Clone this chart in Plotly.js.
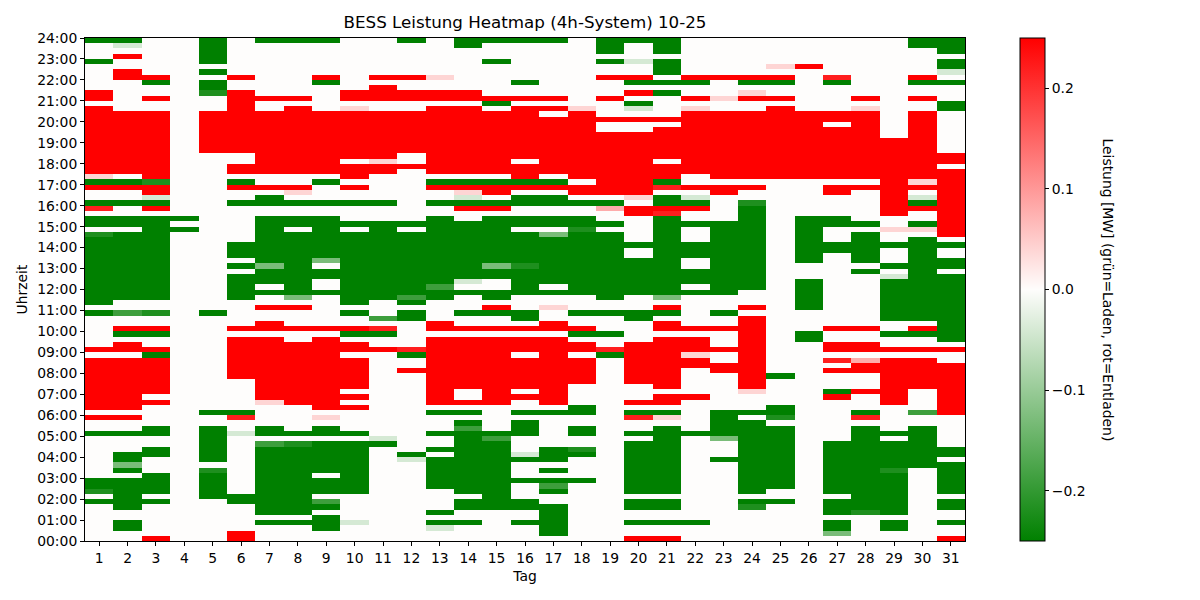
<!DOCTYPE html>
<html>
<head>
<meta charset="utf-8">
<script src="https://cdn.plot.ly/plotly-3.0.1.min.js"></script>
<style>html,body{margin:0;padding:0;background:#fff;}#chart{width:1200px;height:600px;}</style>
</head>
<body>
<div id="chart"></div>
<script>
// Days of the month (x categories)
const days = [1,2,3,4,5,6,7,8,9,10,11,12,13,14,15,16,17,18,19,20,21,22,23,24,25,26,27,28,29,30,31];
// Hour tick labels (y axis)
const hourLabels = ["00:00","01:00","02:00","03:00","04:00","05:00","06:00","07:00","08:00","09:00","10:00","11:00","12:00",
  "13:00","14:00","15:00","16:00","17:00","18:00","19:00","20:00","21:00","22:00","23:00","24:00"];
// Colorbar ticks
const cbTickVals = [-0.2,-0.1,0,0.1,0.2];
const cbTickText = ["\u22120.2","\u22120.1","0.0","0.1","0.2"];

// Power level codes (MW)
const levelCode = {".":0, "R":0.25, "r":0.22, "s":0.08, "p":0.04, "G":-0.25, "g":-0.22, "m":-0.19, "l":-0.13, "q":-0.04};

// One string per day, 15-minute slots, hour groups from 23:00 (top) down to 00:00;
// inside each group: :45, :30, :15, :00
const d01 = "G... G... ..RR .RRR RRRR RRRR RRpG R..G r.GG .gGG GGGG GGGG GGG. G... ...R .RRR RRRR RRR. R..G .... .... GGg. G... ....";
const d02 = "Gq.R ..RR .... ..RR RRRR RRRR RR.G R..G ..GG .GGG GGGG GGGG GG.. m..R G.RR .RRR RRRR RRR. R..G ...G GlG. GGGG GG.. GG..";
const d03 = ".... ...R G..R ..RR RRRR RRRR RRRg RRqG R.GG GGGG GGGG GGGG GG.. g..R G..R GRRR RRRR .R.. ..GG ..GG ...G GGG. G... ...R";
const d04 = ".... .... .... .... .... .... .... .... ..G. G... .... .... .... .... .... .... .... .... .... .... .... .... .... ....";
const d05 = "GGGG G.G. GGg. ..RR RRRR RR.. .... .... .... .... .... .... .... G... .... .... .... ...G ..GG GGGG G.gG GGGG .... ....";
const d06 = ".... ...R ..RR RRRR RRRR RR.. RR.G R..G .... ...G GG.G .GGG GG.. ...R .RRR RRRR R... ...G r..q .... .... ...G G... ..RR";
const d07 = "G... .... ...R ..RR RRRR RRRR RR.. R.GG ..GG GGGG GGGl GGG. G..R ..RR .RRR RRRR RRRR Rp.. ..GG .mGG GGGG GGGG GGG. G...";
const d08 = "G... .... ...R .RRR RRRR RRRR RR.. Rp.G ..GG .GGG GGGG GGGG Gl.R ...R ..RR RRRR RRRR RR.. ...G .gGG GGGG GGGG GGG. G...";
const d09 = "G... ...R G... ..RR RRRR RRRR RR.G ...G ..GG GGGG GGl. GG.. G... ...R .RRR RRRR RRRR RRR. p.GG .GGG GGG. GGG. mG.G GG..";
const d10 = ".... .... ..RR .pRR RRRR RRR. RRR. R..G ...G .GGG GGGG GGGG GGG. G..R G.RR .RRR RRR. R.R. ...G .GGG GGGG GGG. .... q...";
const d11 = ".... ...R .RRR ..RR RRRR RRRp RR.. ...G ...G GGGG GGGG GGGG GG.. .m.r G..R .... .... .... .... qG.. .... .... .... ....";
const d12 = "G... ...R ..RR ..RR RRRR RR.. R... .... ...G .GGG GGGG GGGG GmG. GG.. ...r G..R .... .... .... ...G q... .... .... ....";
const d13 = ".... ...p ..RR .RRR RRRR RRRR RR.G R..G ..GG GGGG GGGG GGGm GG.. ..RR .RRR RRRR RRRR RR.G ...G ..G. GGGG GG.. ..G. Gq..";
const d14 = "GG.. .... ..RR .RRR RRRR RRRR RR.G RpqG R..G GGGG GGGG GGq. G... G..R .RRR RRRR RRR. .R.G .GmG GGGG GGGG GGG. GG.. G...";
const d15 = "G... G... ...R G.RR RRRR RRRR RR.G RR.G R.GG GGGG GGGl GG.. GG.R G..R .RRR RRRR RRRR RR.. ...G mGGG GGGG GGGG GG.. ....";
const d16 = "G... .... G..R .RRR RRRR RRR. RRRG R.GG ..GG .GGG GGGg GGGG G... GG.R .RRR .RRR RRR. R..G .GGG ...q G... G... GG.. G...";
const d17 = "G... .... ...R .R.R RRRR RRRR RR.G R.GG ..GG .lGG GGGG GGG. G..p ..RR .RRR RRRR RRRR RR.G .... ..GG G.G. GmG. .GGG GGG.";
const d18 = ".... .... .... .pRR RRRR RRRR RRR. RR.G ..GG gGGG GGGG GGGG G... G..R G.RR .RRR RR.. ..GG ..GG ..gG .... G... .... ....";
const d19 = "GGG. G..R ...R ...R ..RR RRRR RRRR RR.G s..G .GGG GGGG GGGG GG.. G... G..r G... .... .... .... .... .... .... .... ....";
const d20 = "G... q..R G.R. Gq.R ..RR RRRR RRRR RRp. RR.. ...G ..GG GGGG G... GG.. ..RR RRRR RR.. .R.G r..G .GGG GGGG GGG. GG.. G..R";
const d21 = "GGG. GGG. G.G. ...R .RRR RRR. RRRG r.GG RrGG GGGG GGGG GGGG Gl.R G.RR .RRR RRRR RRR. RR.G p.GG GGGG GGGG GGG. GG.. G..R";
const d22 = ".... ...R G..R .pRR RRRR RRRR RR.. R.qG R..G ...G GG.. GGG. G... ...R .RRR pRR. .... R... ...G .... .... .... .... G...";
const d23 = ".... ...R ...p ..RR RRRR RRRR RRR. RR.. ...G GGGG GGGG GGGG G... G..R ...R ..RR .... ...G GGGG l... G... .... .... ....";
const d24 = ".... ...R G.pR ..RR RRRR RRRR RRR. R..g GGGG GGGG GGGG GGGG ...R .RRR RRRR RRRR RRRp ...G .GGG GGGG GGGG GGG. Gg.. ....";
const d25 = ".... .p.R G..R .RRR RRRR RRRR RRR. .... .... .... .... .... .... .... .... .... G... ..GG g.GG GGGG GGGG GG.. G... ....";
const d26 = ".... .R.. .... ..RR RRRR RRRR RRR. .... ..GG GGGG GGG. ..GG GGGG .... GG.. .... .... .... .... .... .... .... .... ....";
const d27 = ".... ...r G... ..RR .RRR RRRR RRR. RR.. ..GG ...G G... .... .... ...R ..RR .r.R ...G R... .... .GGG GGGG GGG. GGG. GGl.";
const d28 = ".... .... ...R .pRR RRRR RRRR RRR. R... ...G .GGG GGG. G... .... ...R ..RR .sRR ...R ...G r.GG GGGG GGGG GGGG GGg. ....";
const d29 = ".... .... .... .... ...R RRRR RRRR RRRR RR.. p..G ...G .qGG GGGG GG.. G..R .RRR RRRR RR.. ...G .GGG GGgG GGGG GGG. GG..";
const d30 = "GG.. ...R G..R ..RR RRRR RRRR RRRp R.qG R..G p.GG GGGG GGGG GGGG GG.R G..R .RRR RRR. ...m ..GG GGGG GG.. .... .... ....";
const d31 = "GGG. GGq. G... GG.. .... ..RR .RRR RRRR RRRR RR.G ..GG .GGG GGGG GGGG GG.R ..RR RRRR RRRR .... ..GG .GGG GGG. GG.. G..R";

const dayStrings = [d01,d02,d03,d04,d05,d06,d07,d08,d09,d10,d11,d12,d13,d14,d15,d16,d17,d18,d19,d20,d21,d22,d23,d24,d25,d26,d27,d28,d29,d30,d31];

// decode: columns = days, rows = slots top-down
const cols = dayStrings.map(s => s.replace(/\s+/g, "").split("").map(c => levelCode[c]));
const nSlots = cols[0].length;
const slotCenters = [];
for (let k = 0; k < nSlots; k++) slotCenters.push(24 - (k + 0.5) * 24 / nSlots);
const z = [];
for (let k = 0; k < nSlots; k++) z.push(cols.map(c => c[k]));

const font = "DejaVu Sans, Verdana, sans-serif";

const trace = {
  type: "heatmap",
  x: days,
  y: slotCenters,
  z: z,
  zmin: -0.25,
  zmax: 0.25,
  colorscale: [[0, "rgb(0,128,0)"], [0.5, "rgb(254,253,252)"], [1, "rgb(255,0,0)"]],
  hoverongaps: false,
  colorbar: {
    x: 1.0625, xanchor: "left", xref: "paper",
    y: 0.5, yanchor: "middle", len: 1, lenmode: "fraction",
    thickness: 25, thicknessmode: "pixels",
    outlinewidth: 1, outlinecolor: "#000",
    tickmode: "array", tickvals: cbTickVals, ticktext: cbTickText,
    ticks: "outside", ticklen: 4, tickcolor: "#000",
    tickfont: {family: font, size: 13.9, color: "#000"},
    xpad: 0, ypad: 0
  }
};

const layout = {
  width: 1200, height: 600,
  paper_bgcolor: "#fff", plot_bgcolor: "#fff",
  margin: {l: 85, r: 235, t: 38, b: 59},
  title: {text: "BESS Leistung Heatmap (4h-System) 10-25", font: {family: font, size: 16.7, color: "#000"},
          x: 0.5, xref: "paper", y: 1 - 22/600, yref: "container", yanchor: "middle"},
  xaxis: {
    range: [0.5, 31.5], tickmode: "array", tickvals: days, ticktext: days.map(String),
    ticks: "outside", ticklen: 4, tickcolor: "#000", showgrid: false, zeroline: false,
    showline: true, linecolor: "#000", linewidth: 1, mirror: true,
    tickfont: {family: font, size: 13.9, color: "#000"},
    title: {text: "Tag", font: {family: font, size: 13.9, color: "#000"}, standoff: 6}
  },
  yaxis: {
    range: [0, 24], tickmode: "array", tickvals: hourLabels.map((_, i) => i), ticktext: hourLabels,
    ticks: "outside", ticklen: 4, tickcolor: "#000", showgrid: false, zeroline: false,
    showline: true, linecolor: "#000", linewidth: 1, mirror: true,
    tickfont: {family: font, size: 13.9, color: "#000"},
    title: {text: "Uhrzeit", font: {family: font, size: 13.9, color: "#000"}, standoff: 6}
  },
  annotations: [{
    text: "Leistung [MW] (grün=Laden, rot=Entladen)",
    xref: "paper", yref: "paper", x: (1108 - 85) / 880, y: 0.5,
    xanchor: "center", yanchor: "middle", textangle: 90, showarrow: false,
    font: {family: font, size: 13.9, color: "#000"}
  }]
};

Plotly.newPlot("chart", [trace], layout, {displayModeBar: false, staticPlot: true});
</script>
</body>
</html>
